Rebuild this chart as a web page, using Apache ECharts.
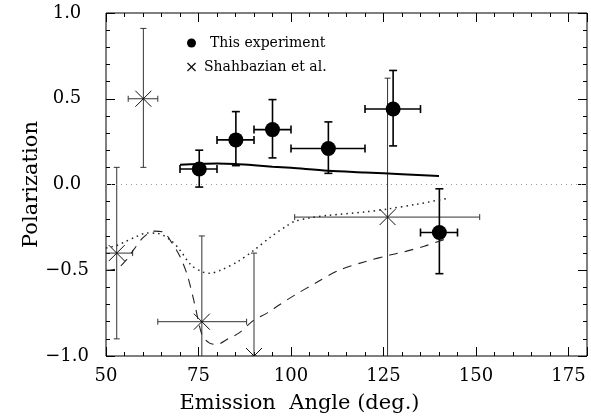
<!DOCTYPE html>
<html>
<head>
<meta charset="utf-8">
<script src="https://cdn.jsdelivr.net/npm/echarts@6/dist/echarts.min.js"></script>
<style>
  html, body { margin: 0; padding: 0; background: #fff; }
  #chart { width: 591px; height: 419px; }
</style>
</head>
<body>
<div id="chart"></div>
<script>
// this experiment: points with x / y errors
var expX    = [75.2, 85.1, 95.0, 110.1, 127.6, 140.1];
var expY    = [0.09, 0.26, 0.32, 0.21, 0.44, -0.28];
var expXLo  = [70, 80, 90, 100, 120, 135];
var expXHi  = [80, 90, 100, 120, 135, 145];
var expYLo  = [-0.015, 0.11, 0.155, 0.065, 0.225, -0.52];
var expYHi  = [0.20, 0.425, 0.495, 0.365, 0.665, -0.025];

// Shahbazian et al.
var shX   = [52.9, 60.1, 75.9, 90.0, 126.1];
var shY   = [-0.40, 0.50, -0.80, -1.00, -0.19];
var shXLo = [48, 56, 64, 90, 101];
var shXHi = [57.2, 64, 88, 90, 151];
var shYLo = [-0.90, 0.10, -1.10, -1.00, -1.10];
var shYHi = [0.10, 0.91, -0.30, -0.40, 0.62];

// theory curves
var solidX = [70, 75, 80, 85, 90, 95, 100, 110, 120, 130, 140];
var solidY = [0.115, 0.12, 0.123, 0.12, 0.112, 0.104, 0.097, 0.08, 0.07, 0.06, 0.05];

var dotX = [50, 53, 55, 58, 61, 64, 67.5, 70, 73, 76, 78, 81, 85.5, 90, 94.5, 99, 101, 105, 110, 120, 126, 134, 142.5];
var dotY = [-0.37, -0.355, -0.335, -0.306, -0.283, -0.285, -0.325, -0.383, -0.47, -0.509, -0.518, -0.499, -0.451, -0.383, -0.306, -0.239, -0.215, -0.195, -0.18, -0.16, -0.143, -0.115, -0.08];

var dashX = [50, 53, 55.5, 57.5, 60, 63, 65.5, 67.5, 70, 72, 74, 76, 78, 80, 83, 86, 90, 93.5, 97, 101, 107, 113, 120, 127, 131, 136, 141.5];
var dashY = [-0.50, -0.49, -0.44, -0.38, -0.31, -0.272, -0.277, -0.33, -0.42, -0.53, -0.70, -0.88, -0.925, -0.932, -0.90, -0.865, -0.79, -0.75, -0.70, -0.645, -0.57, -0.50, -0.45, -0.41, -0.39, -0.36, -0.32];

var xMin = 50, xMax = 180;
var yMin = -1, yMax = 1;

var FONT = 'DejaVu Serif';

function zip(a, b) {
    return a.map(function (v, i) { return [v, b[i]]; });
}
function errRows(x, y, xlo, xhi, ylo, yhi) {
    return x.map(function (v, i) { return [v, y[i], xlo[i], xhi[i], ylo[i], yhi[i]]; });
}

function makeErrRender(color, width, cap, cross) {
    return function (params, api) {
        var x = api.value(0), y = api.value(1);
        var c = api.coord([x, y]);
        var lo = api.coord([api.value(2), y]);
        var hi = api.coord([api.value(3), y]);
        var bot = api.coord([x, api.value(4)]);
        var top = api.coord([x, api.value(5)]);
        var st = { stroke: color, lineWidth: width };
        var kids = [];
        if (hi[0] - lo[0] > 1) {
            kids.push({ type: 'line', shape: { x1: lo[0], y1: c[1], x2: hi[0], y2: c[1] }, style: st });
            kids.push({ type: 'line', shape: { x1: lo[0], y1: c[1] - cap, x2: lo[0], y2: c[1] + cap }, style: st });
            kids.push({ type: 'line', shape: { x1: hi[0], y1: c[1] - cap, x2: hi[0], y2: c[1] + cap }, style: st });
        }
        kids.push({ type: 'line', shape: { x1: c[0], y1: bot[1], x2: c[0], y2: top[1] }, style: st });
        kids.push({ type: 'line', shape: { x1: c[0] - cap, y1: bot[1], x2: c[0] + cap, y2: bot[1] }, style: st });
        kids.push({ type: 'line', shape: { x1: c[0] - cap, y1: top[1], x2: c[0] + cap, y2: top[1] }, style: st });
        if (cross) {
            var r = cross;
            var cs = { stroke: '#111', lineWidth: 1 };
            kids.push({ type: 'line', shape: { x1: c[0] - r, y1: c[1] - r, x2: c[0] + r, y2: c[1] + r }, style: cs });
            kids.push({ type: 'line', shape: { x1: c[0] - r, y1: c[1] + r, x2: c[0] + r, y2: c[1] - r }, style: cs });
        }
        return { type: 'group', children: kids };
    };
}

function xAx(pos, interval, tickLen, labels) {
    return {
        type: 'value', position: pos, min: xMin, max: xMax, interval: interval,
        axisLine: { show: false, onZero: false },
        axisTick: { show: true, inside: true, length: tickLen, lineStyle: { color: '#000', width: 1 } },
        splitLine: { show: false },
        axisLabel: labels ? {
            show: true, margin: 11, color: '#000', fontFamily: FONT, fontSize: 18,
            formatter: function (v) { return (Math.abs(v % 25) < 1e-6) ? String(v) : ''; }
        } : { show: false }
    };
}
function yAx(pos, interval, tickLen, labels) {
    return {
        type: 'value', position: pos, min: yMin, max: yMax, interval: interval,
        axisLine: { show: false, onZero: false },
        axisTick: { show: true, inside: true, length: tickLen, lineStyle: { color: '#000', width: 1 } },
        splitLine: { show: false },
        axisLabel: labels ? {
            show: true, margin: 39, align: 'center', color: '#000', fontFamily: FONT, fontSize: 18,
            formatter: function (v) {
                var k = v * 2;
                if (Math.abs(k - Math.round(k)) > 1e-6) return '';
                var s = Math.abs(v).toFixed(1);
                return v < -1e-9 ? '\u2212' + s : s;
            }
        } : { show: false }
    };
}

var xAxes = [xAx('bottom', 5, 4, true), xAx('bottom', 25, 9, false), xAx('top', 5, 4, false), xAx('top', 25, 9, false)];
xAxes[0].name = 'Emission  Angle (deg.)';
xAxes[0].nameLocation = 'middle';
xAxes[0].nameGap = 37;
xAxes[0].nameMoveOverlap = false;
xAxes[0].nameTextStyle = { color: '#000', fontFamily: FONT, fontSize: 21, padding: [0, 94, 0, 0] };

var yAxes = [yAx('left', 0.1, 4, true), yAx('left', 0.5, 9, false), yAx('right', 0.1, 4, false), yAx('right', 0.5, 9, false)];
yAxes[0].name = 'Polarization';
yAxes[0].nameLocation = 'middle';
yAxes[0].nameGap = 64;
yAxes[0].nameMoveOverlap = false;
yAxes[0].nameTextStyle = { color: '#000', fontFamily: FONT, fontSize: 21 };

var chart = echarts.init(document.getElementById('chart'), null, { renderer: 'canvas' });

var option = {
    animation: false,
    backgroundColor: '#fff',
    grid: { left: 106, right: 4, top: 13, bottom: 59, show: true, borderColor: '#000', borderWidth: 1, backgroundColor: 'transparent' },
    legend: {
        orient: 'vertical', left: 182, top: 31, itemWidth: 9, itemHeight: 9, itemGap: 10,
        textStyle: { color: '#000', fontFamily: FONT, fontSize: 14, lineHeight: 14 },
        data: [
            { name: 'This experiment', icon: 'circle', itemStyle: { color: '#000', opacity: 1 }, textStyle: { padding: [0, 0, 0, 9] } },
            { name: 'Shahbazian et al.', icon: 'path://M0,1 L1,0 L5,4 L9,0 L10,1 L6,5 L10,9 L9,10 L5,6 L1,10 L0,9 L4,5 Z', itemStyle: { color: '#111' }, textStyle: { padding: [0, 0, 0, 3] } }
        ]
    },
    xAxis: xAxes,
    yAxis: yAxes,
    series: [
        {
            type: 'line', silent: true, symbol: 'none',
            data: [[xMin, 0], [xMax, 0]],
            lineStyle: { color: '#9a9a9a', width: 1, type: [1, 4] }
        },
        {
            type: 'line', silent: true, symbol: 'none', smooth: 0.3,
            data: zip(solidX, solidY),
            lineStyle: { color: '#000', width: 2 }
        },
        {
            type: 'line', silent: true, symbol: 'none', smooth: 0.3,
            data: zip(dotX, dotY),
            lineStyle: { color: '#222', width: 1.5, type: [1.5, 4] }
        },
        {
            type: 'line', silent: true, symbol: 'none', smooth: 0.3,
            data: zip(dashX, dashY),
            lineStyle: { color: '#222', width: 1.1, type: [9, 7] }
        },
        {
            name: 'Shahbazian et al.',
            type: 'custom', clip: true, silent: true,
            itemStyle: { color: '#111' },
            renderItem: makeErrRender('#333', 1, 3, 8),
            encode: { x: 0, y: 1 },
            data: errRows(shX, shY, shXLo, shXHi, shYLo, shYHi)
        },
        {
            type: 'custom', clip: true, silent: true,
            renderItem: makeErrRender('#000', 1.6, 4, 0),
            encode: { x: 0, y: 1 },
            data: errRows(expX, expY, expXLo, expXHi, expYLo, expYHi)
        },
        {
            name: 'This experiment',
            type: 'scatter', silent: true,
            symbol: 'circle', symbolSize: 15,
            itemStyle: { color: '#000', opacity: 1 },
            data: zip(expX, expY)
        }
    ]
};

chart.setOption(option);
window.onresize = function () { chart.resize(); };
</script>
</body>
</html>
